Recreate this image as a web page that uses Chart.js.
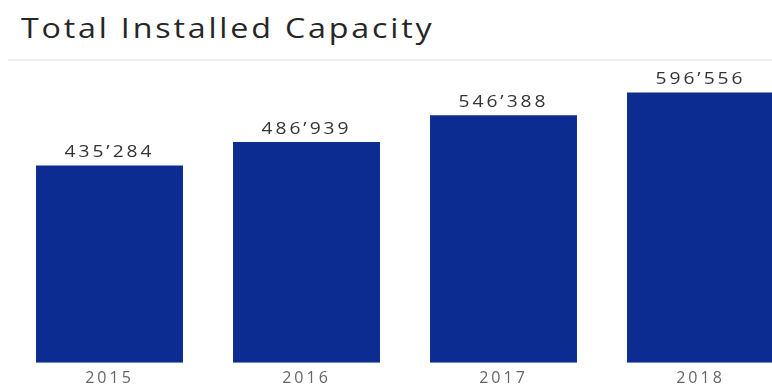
<!DOCTYPE html>
<html>
<head>
<meta charset="utf-8">
<script src="https://cdn.jsdelivr.net/npm/chart.js@4"></script>
<style>
  html, body { margin: 0; padding: 0; background: #fff; overflow: hidden; }
  body { width: 772px; height: 388px; position: relative; }
  #title {
    position: absolute; left: 21px; top: 13px; line-height: 28px;
    font-family: "Open Sans", sans-serif; font-size: 28px; color: #262626;
    letter-spacing: 2.45px; white-space: nowrap;
    transform: scaleX(1.15); transform-origin: 0 0;
  }
  #rule {
    position: absolute; left: 8px; right: 0; top: 59px; height: 2px;
    background: #eeeeee;
  }
  #wrap { position: absolute; left: 0; top: 62px; width: 800px; height: 332px; }
</style>
</head>
<body>
<div id="title">Total Installed Capacity</div>
<div id="rule"></div>
<div id="wrap"><canvas id="capacityChart"></canvas></div>
<script>
const years = ['2015', '2016', '2017', '2018'];
const capacity = [435284, 486939, 546388, 596556];

// swiss-style thousands separator: 435’284
const fmt = v => String(v).replace(/\B(?=(\d{3})+(?!\d))/g, '\u2019');

// wider tracking for the axis text
const tracking = {
    id: 'tracking',
    beforeDraw(chart) {
        chart.ctx.letterSpacing = '3px';
    }
};

// Value labels above each bar, drawn slightly stretched
const barLabels = {
    id: 'barLabels',
    afterDatasetsDraw(chart) {
        const { ctx } = chart;
        const meta = chart.getDatasetMeta(0);
        meta.data.forEach((bar, i) => {
            ctx.save();
            ctx.translate(bar.x, bar.y - 5);
            ctx.scale(1.2, 1);
            ctx.font = '16px "Open Sans", sans-serif';
            ctx.letterSpacing = '2.5px';
            ctx.fillStyle = '#333333';
            ctx.textAlign = 'center';
            ctx.textBaseline = 'bottom';
            ctx.fillText(fmt(capacity[i]), 0, 0);
            ctx.restore();
        });
    }
};

const ctx = document.getElementById('capacityChart').getContext('2d');
new Chart(ctx, {
    type: 'bar',
    data: {
        labels: years,
        datasets: [{
            data: capacity,
            backgroundColor: '#0c2c91',
            categoryPercentage: 1,
            barPercentage: 0.746
        }]
    },
    options: {
        responsive: true,
        maintainAspectRatio: false,
        animation: false,
        layout: { padding: { left: 11, right: 1, top: 8, bottom: 0 } },
        plugins: {
            legend: { display: false },
            tooltip: { enabled: false }
        },
        scales: {
            x: {
                grid: { display: false, drawTicks: false },
                border: { display: false },
                ticks: {
                    color: '#666666',
                    padding: 6,
                    font: { family: '"Open Sans", sans-serif', size: 16 }
                }
            },
            y: {
                display: false,
                min: 0,
                max: 646000
            }
        }
    },
    plugins: [tracking, barLabels]
});
</script>
</body>
</html>
